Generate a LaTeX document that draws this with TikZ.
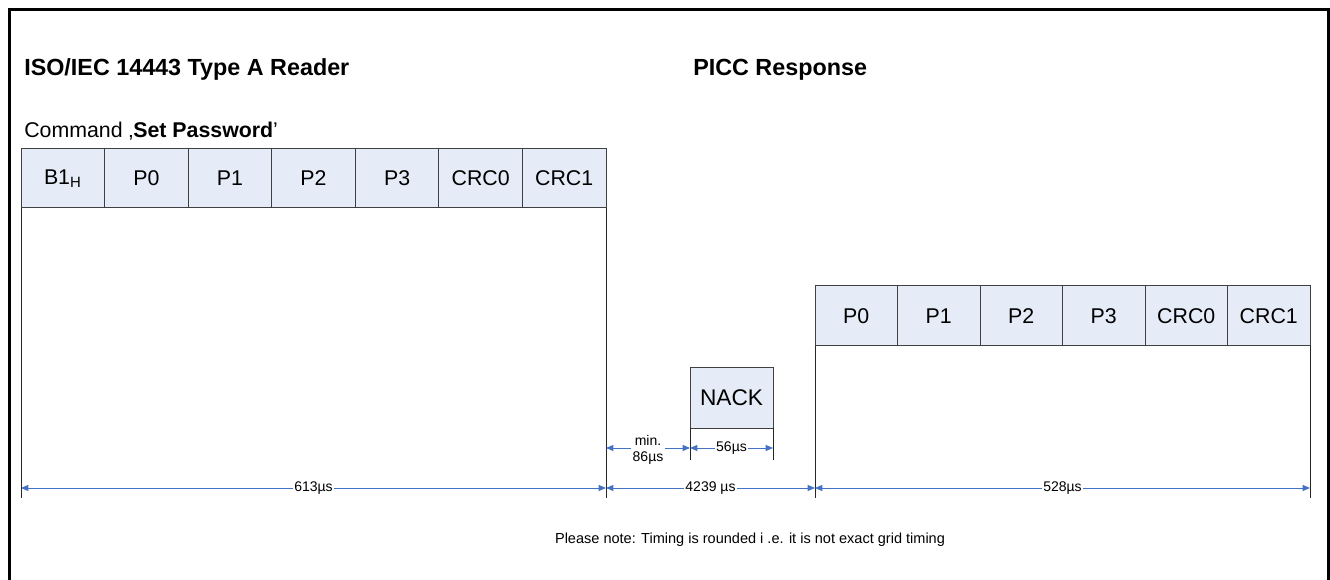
\documentclass[tikz,border=0pt]{standalone}
\usepackage{fontspec}
\setmainfont{Liberation Sans}
\usetikzlibrary{arrows.meta,calc}
\definecolor{cellfill}{RGB}{230,236,247}
\definecolor{cellline}{RGB}{64,64,64}
\definecolor{dimblue}{RGB}{68,114,196}
\tikzset{
  cell/.style={draw=cellline, fill=cellfill, line width=0.75pt, inner sep=0pt, outer sep=0pt,
    anchor=north west, font=\fontsize{16}{19}\selectfont},
  rcell/.style={cell, minimum width=62.68pt, minimum height=44.25pt},
  pcell/.style={cell, minimum width=61.875pt, minimum height=45pt},
  vline/.style={draw=black!85, line width=0.75pt},
  dimline/.style={draw=dimblue, line width=0.6pt, {Triangle[length=5.5pt,width=4.5pt]}-{Triangle[length=5.5pt,width=4.5pt]}},
  dimlabel/.style={fill=white, inner sep=1pt, font=\fontsize{10.5}{11.25}\selectfont},
  title/.style={anchor=base west, inner sep=0pt, font=\fontsize{17.5}{21}\selectfont\bfseries},
}
\begin{document}
\begin{tikzpicture}[x=0.75pt, y=-0.75pt]
\useasboundingbox (0,0) rectangle (1330,580);
\clip (0,0) rectangle (1330,580);
% outer frame (open at bottom)
\draw[line width=2.25pt, black] (9.5,580) -- (9.5,9.5) -- (1328.5,9.5) -- (1328.5,580);

% titles
\node[title] (treader) at (24,76) {ISO/IEC 14443 Type A Reader};
\node[title] (tpicc) at (693,76) {PICC Response};
\node[anchor=base west, inner sep=0pt, font=\fontsize{16}{19}\selectfont] (tcmd) at (24,138) {Command ‚\textbf{Set Password}’};

% reader cells
\node[rcell] (r1) at (21,149) {B1\textsubscript{H}};
\node[rcell] (r2) at (104.57,149) {P0};
\node[rcell] (r3) at (188.14,149) {P1};
\node[rcell] (r4) at (271.71,149) {P2};
\node[rcell] (r5) at (355.29,149) {P3};
\node[rcell] (r6) at (438.86,149) {CRC0};
\node[rcell] (r7) at (522.43,149) {CRC1};

% PICC cells
\node[pcell] (p1) at (815,286) {P0};
\node[pcell] (p2) at (897.5,286) {P1};
\node[pcell] (p3) at (980,286) {P2};
\node[pcell] (p4) at (1062.5,286) {P3};
\node[pcell] (p5) at (1145,286) {CRC0};
\node[pcell] (p6) at (1227.5,286) {CRC1};

% NACK
\node[cell, minimum width=62.25pt, minimum height=45pt, font=\fontsize{17}{20}\selectfont] (nack) at (690,368) {NACK};

% reference levels
\coordinate (bot) at (0,498);
\coordinate (nbot) at (0,460);
\coordinate (dimA) at (0,448);
\coordinate (dimB) at (0,488);

% vertical extension lines
\draw[vline] (r1.south west) -- (r1.south west |- bot);
\draw[vline] (r7.south east) -- (r7.south east |- bot);
\draw[vline] (p1.south west) -- (p1.south west |- bot);
\draw[vline] (p6.south east) -- (p6.south east |- bot);
\draw[vline] (nack.south west) -- (nack.south west |- nbot);
\draw[vline] (nack.south east) -- (nack.south east |- nbot);

% dimension lines, upper row
\draw[dimline] (r7.south east |- dimA) -- (nack.south west |- dimA);
\node[dimlabel, align=center, font=\fontsize{10.5}{12}\selectfont] (lmin) at ($(r7.south east |- dimA)!0.5!(nack.south west |- dimA)+(0,2)$) {min.\\86µs};
\draw[dimline] (nack.south west |- dimA) -- node[dimlabel] (l56) {56µs} (nack.south east |- dimA);

% dimension lines, lower row
\draw[dimline] (r1.south west |- dimB) -- node[dimlabel] (l613) {613µs} (r7.south east |- dimB);
\draw[dimline] (r7.south east |- dimB) -- node[dimlabel] (l4239) {4239 µs} (p1.south west |- dimB);
\draw[dimline] (p1.south west |- dimB) -- node[dimlabel] (l528) {528µs} (p6.south east |- dimB);

% note
\node[anchor=base, inner sep=0pt, font=\fontsize{10.9}{13}\selectfont] (note) at (750,543) {Please note: Timing is rounded i .e. it is not exact grid timing};
\end{tikzpicture}
\end{document}
